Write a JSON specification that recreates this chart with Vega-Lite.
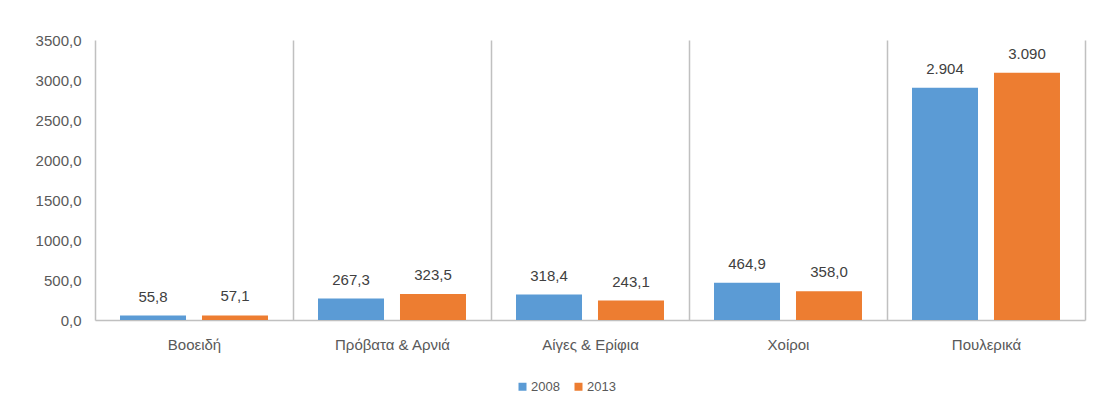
{
  "$schema": "https://vega.github.io/schema/vega-lite/v6.json",
  "width": 990,
  "height": 280,
  "autosize": {"type": "none"},
  "padding": {"left": 95, "top": 40, "right": 17, "bottom": 96},
  "background": "white",
  "config": {
    "view": {"stroke": null},
    "font": "Liberation Sans",
    "axis": {"labelFont": "Liberation Sans", "labelFontSize": 15, "labelColor": "#595959"},
    "legend": {"labelFont": "Liberation Sans", "labelFontSize": 13, "labelColor": "#595959"}
  },
  "data": {
    "values": [
      {"category": "Βοοειδή", "year": "2008", "value": 55.8, "label": "55,8"},
      {"category": "Βοοειδή", "year": "2013", "value": 57.1, "label": "57,1"},
      {"category": "Πρόβατα & Αρνιά", "year": "2008", "value": 267.3, "label": "267,3"},
      {"category": "Πρόβατα & Αρνιά", "year": "2013", "value": 323.5, "label": "323,5"},
      {"category": "Αίγες & Ερίφια", "year": "2008", "value": 318.4, "label": "318,4"},
      {"category": "Αίγες & Ερίφια", "year": "2013", "value": 243.1, "label": "243,1"},
      {"category": "Χοίροι", "year": "2008", "value": 464.9, "label": "464,9"},
      {"category": "Χοίροι", "year": "2013", "value": 358.0, "label": "358,0"},
      {"category": "Πουλερικά", "year": "2008", "value": 2904, "label": "2.904"},
      {"category": "Πουλερικά", "year": "2013", "value": 3090, "label": "3.090"}
    ]
  },
  "encoding": {
    "x": {
      "field": "category",
      "type": "nominal",
      "sort": null,
      "scale": {"paddingInner": 0, "paddingOuter": 0},
      "axis": {
        "title": null,
        "labelAngle": 0,
        "tickBand": "extent",
        "grid": true,
        "gridColor": "#c0c0c0",
        "gridWidth": 1.5,
        "ticks": false,
        "domainColor": "#c0c0c0",
        "domainWidth": 1.5,
        "labelPadding": 17
      }
    },
    "xOffset": {
      "field": "year",
      "type": "nominal",
      "scale": {"paddingInner": 0.195, "paddingOuter": 0.305}
    },
    "y": {
      "field": "value",
      "type": "quantitative",
      "scale": {"domain": [0, 3500]},
      "axis": {
        "title": null,
        "values": [0, 500, 1000, 1500, 2000, 2500, 3000, 3500],
        "labelExpr": "replace(format(datum.value, '.1f'), '.', ',')",
        "grid": false,
        "domain": false,
        "ticks": false,
        "labelPadding": 14
      }
    }
  },
  "layer": [
    {
      "mark": {"type": "bar"},
      "encoding": {
        "color": {
          "field": "year",
          "type": "nominal",
          "scale": {"range": ["#5B9BD5", "#ED7D31"]},
          "legend": {
            "orient": "none",
            "direction": "horizontal",
            "legendX": 421,
            "legendY": 340,
            "title": null,
            "symbolType": "square",
            "symbolSize": 64,
            "symbolStrokeWidth": 0,
            "labelOffset": 2,
            "columnPadding": 12
          }
        }
      }
    },
    {
      "mark": {"type": "text", "dy": -14, "baseline": "alphabetic", "fontSize": 15, "color": "#404040", "font": "Liberation Sans"},
      "encoding": {"text": {"field": "label"}}
    }
  ]
}
